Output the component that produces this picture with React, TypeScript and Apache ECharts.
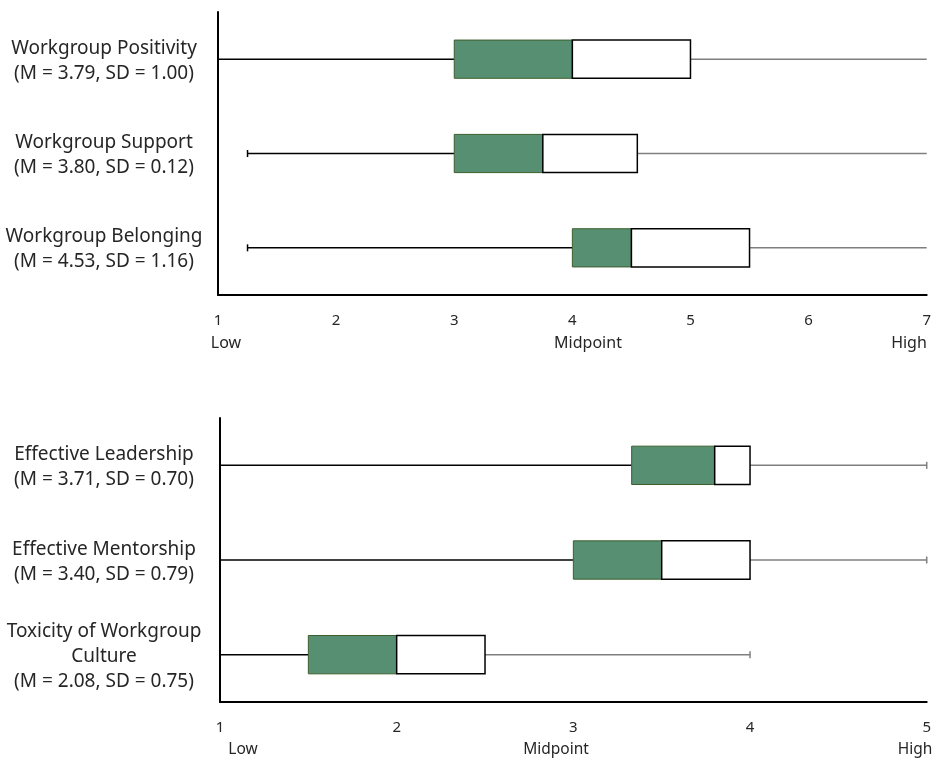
import React, { useEffect, useRef } from "react";
import * as echarts from "echarts";

// ---- Data ----
const topNames = ["Workgroup Positivity", "Workgroup Support", "Workgroup Belonging"];
const topMeans = ["3.79", "3.80", "4.53"];
const topSDs = ["1.00", "0.12", "1.16"];
const topMin = [1, 1.25, 1.25];
const topQ1 = [3, 3, 4];
const topMedian = [4, 3.75, 4.5];
const topQ3 = [5, 4.55, 5.5];
const topMax = [7, 7, 7];
const topTicks = [1, 2, 3, 4, 5, 6, 7];

const bottomNames = ["Effective Leadership", "Effective Mentorship", "Toxicity of Workgroup\nCulture"];
const bottomMeans = ["3.71", "3.40", "2.08"];
const bottomSDs = ["0.70", "0.79", "0.75"];
const bottomMin = [1, 1, 1];
const bottomQ1 = [3.33, 3, 1.5];
const bottomMedian = [3.8, 3.5, 2];
const bottomQ3 = [4, 4, 2.5];
const bottomMax = [5, 5, 4];
const bottomTicks = [1, 2, 3, 4, 5];

const scaleWords = ["Low", "Midpoint", "High"];

const FONT = "Noto Sans";
const TEXT = "#262626";
const GREEN = "#568F72";
const GREEN_EDGE = "#3D5F2C";

function buildLabels(names: string[], means: string[], sds: string[]) {
  return names.map((n, i) => `${n}\n(M = ${means[i]}, SD = ${sds[i]})`);
}

function buildRows(mins: number[], q1: number[], med: number[], q3: number[], max: number[], maxCap: boolean) {
  return mins.map((m, i) => [i, m, q1[i], med[i], q3[i], max[i], maxCap ? 1 : 0]);
}

function renderBox(params: any, api: any) {
  const cat = api.value(0);
  const vMin = api.value(1);
  const vQ1 = api.value(2);
  const vMed = api.value(3);
  const vQ3 = api.value(4);
  const vMax = api.value(5);
  const maxCap = api.value(6);
  const pMin = api.coord([vMin, cat]);
  const pQ1 = api.coord([vQ1, cat]);
  const pMed = api.coord([vMed, cat]);
  const pQ3 = api.coord([vQ3, cat]);
  const pMax = api.coord([vMax, cat]);
  const band = api.size([0, 1])[1];
  const h = band * 0.405;
  const y = pMin[1];
  const cap = 3.5;
  const children: any[] = [
    { type: "line", shape: { x1: pMin[0], y1: y, x2: pQ1[0], y2: y }, style: { stroke: "#000", lineWidth: 1.5 } },
    { type: "line", shape: { x1: pMin[0], y1: y - cap, x2: pMin[0], y2: y + cap }, style: { stroke: "#000", lineWidth: 1.5 } },
    { type: "line", shape: { x1: pQ3[0], y1: y, x2: pMax[0], y2: y }, style: { stroke: "#7F7F7F", lineWidth: 1.5 } },
    { type: "rect", shape: { x: pQ1[0], y: y - h / 2, width: pMed[0] - pQ1[0], height: h }, style: { fill: GREEN, stroke: GREEN_EDGE, lineWidth: 1 } },
    { type: "rect", shape: { x: pMed[0], y: y - h / 2, width: pQ3[0] - pMed[0], height: h }, style: { fill: "#fff", stroke: "#000", lineWidth: 1.5 } },
  ];
  if (maxCap) {
    children.push({ type: "line", shape: { x1: pMax[0], y1: y - cap, x2: pMax[0], y2: y + cap }, style: { stroke: "#7F7F7F", lineWidth: 1.5 } });
  }
  return { type: "group", children };
}

export default function App() {
  const ref = useRef<HTMLDivElement>(null);
  useEffect(() => {
    if (!ref.current) return;
    const chart = echarts.init(ref.current, null, { renderer: "svg", width: 934, height: 760 });
    const axisLabelY = (margin: number) => ({
      margin,
      align: "center" as const,
      fontFamily: FONT,
      fontSize: 19,
      lineHeight: 25,
      color: TEXT,
    });
    const xAxisCommon = {
      type: "value" as const,
      interval: 1,
      splitLine: { show: false },
      axisTick: { show: false },
      axisLine: { show: true, lineStyle: { color: "#000", width: 2 } },
      axisLabel: { margin: 16, fontFamily: FONT, fontSize: 15, color: TEXT, showMaxLabel: true, showMinLabel: true },
    };
    const yAxisCommon = {
      type: "category" as const,
      inverse: true,
      axisTick: { show: false },
      axisLine: { show: true, lineStyle: { color: "#000", width: 2 } },
      splitLine: { show: false },
    };
    const wordStyle = { fontFamily: FONT, fontSize: 16, fill: TEXT, textAlign: "center", textVerticalAlign: "middle" };
    const wordStyleLow = { ...wordStyle, fontSize: 15.5 };
    chart.setOption({
      animation: false,
      grid: [
        { left: 218, width: 711, top: 12, height: 283 },
        { left: 220, width: 713, top: 418, height: 284 },
      ],
      xAxis: [
        { ...xAxisCommon, gridIndex: 0, min: topTicks[0], max: topTicks[topTicks.length - 1] },
        { ...xAxisCommon, gridIndex: 1, min: bottomTicks[0], max: bottomTicks[bottomTicks.length - 1] },
      ],
      yAxis: [
        { ...yAxisCommon, gridIndex: 0, data: buildLabels(topNames, topMeans, topSDs), axisLabel: axisLabelY(114) },
        { ...yAxisCommon, gridIndex: 1, data: buildLabels(bottomNames, bottomMeans, bottomSDs), axisLabel: axisLabelY(116) },
      ],
      series: [
        {
          type: "custom",
          xAxisIndex: 0,
          yAxisIndex: 0,
          renderItem: renderBox,
          encode: { x: [1, 2, 3, 4, 5], y: 0 },
          data: buildRows(topMin, topQ1, topMedian, topQ3, topMax, false),
        },
        {
          type: "custom",
          xAxisIndex: 1,
          yAxisIndex: 1,
          renderItem: renderBox,
          encode: { x: [1, 2, 3, 4, 5], y: 0 },
          data: buildRows(bottomMin, bottomQ1, bottomMedian, bottomQ3, bottomMax, true),
        },
      ],
      graphic: [
        { type: "text", x: 226, y: 342, style: { ...wordStyle, text: scaleWords[0] } },
        { type: "text", x: 588, y: 342, style: { ...wordStyle, text: scaleWords[1] } },
        { type: "text", x: 909, y: 342, style: { ...wordStyle, text: scaleWords[2] } },
        { type: "text", x: 243, y: 748, style: { ...wordStyleLow, text: scaleWords[0] } },
        { type: "text", x: 556, y: 748, style: { ...wordStyleLow, text: scaleWords[1] } },
        { type: "text", x: 915, y: 748, style: { ...wordStyleLow, text: scaleWords[2] } },
      ],
    });
    return () => chart.dispose();
  }, []);
  return <div ref={ref} style={{ position: "fixed", left: 0, top: 0, width: 934, height: 760, overflow: "hidden" }} />;
}
